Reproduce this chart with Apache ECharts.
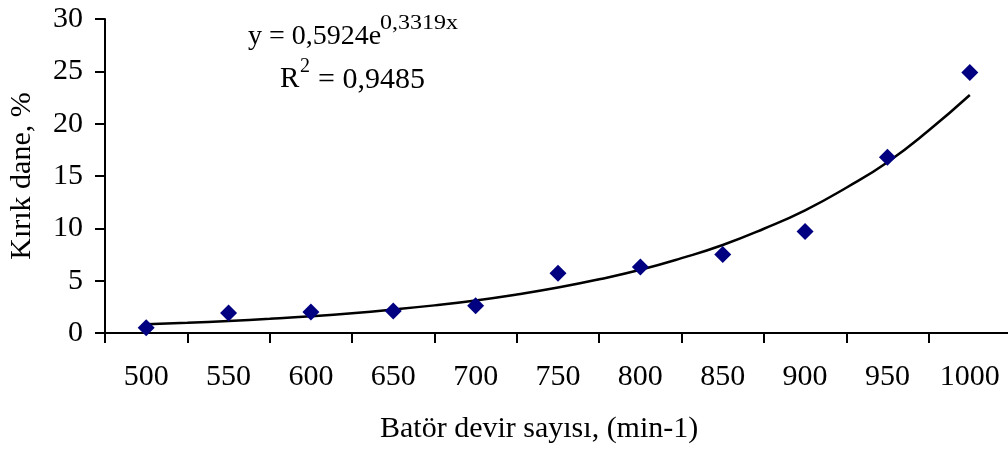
<!DOCTYPE html>
<html>
<head>
<meta charset="utf-8">
<script src="https://cdn.jsdelivr.net/npm/echarts@6/dist/echarts.min.js"></script>
<style>
  html, body { margin: 0; padding: 0; background: #fff; }
  #chart { width: 1008px; height: 454px; }
</style>
</head>
<body>
<div id="chart"></div>
<script>
// x categories (devir sayisi)
const categories = ['500', '550', '600', '650', '700', '750', '800', '850', '900', '950', '1000'];
// measured points (Kirik dane, %)
const kirikDane = [0.5, 1.9, 2.0, 2.1, 2.6, 5.7, 6.3, 7.5, 9.7, 16.8, 24.9];
// exponential trend line at each category and half way between
const trendPos = [1, 1.5, 2, 2.5, 3, 3.5, 4, 4.5, 5, 5.5, 6, 6.5, 7, 7.5, 8, 8.5, 9, 9.5, 10, 10.5, 11];
const trendValues = [0.83, 0.97, 1.15, 1.36, 1.60, 1.89, 2.24, 2.64, 3.11, 3.68, 4.34, 5.13, 6.04, 7.15, 8.41, 9.96, 11.72, 13.88, 16.32, 19.35, 22.74];
const yTicks = { min: 0, max: 30, interval: 5 };

const font = 'Liberation Serif';
const chart = echarts.init(document.getElementById('chart'));

chart.setOption({
  animation: false,
  backgroundColor: '#fff',
  grid: { left: 105, top: 19, width: 906, height: 314, outerBoundsMode: 'none', containLabel: false },
  xAxis: [
    {
      type: 'category',
      data: categories,
      boundaryGap: true,
      axisLine: { lineStyle: { color: '#000', width: 2 } },
      axisTick: { show: true, inside: false, length: 10, lineStyle: { color: '#000', width: 2 } },
      axisLabel: { fontFamily: font, fontSize: 30, color: '#000', margin: 29 },
      splitLine: { show: false }
    },
    {
      // hidden helper axis: category index positions for the trend curve
      type: 'value',
      min: 0.5,
      max: 11.5,
      show: false
    }
  ],
  yAxis: {
    type: 'value',
    min: yTicks.min,
    max: yTicks.max,
    interval: yTicks.interval,
    name: 'Kırık dane, %',
    nameLocation: 'middle',
    nameGap: 68,
    nameRotate: 90,
    nameTextStyle: { fontFamily: font, fontSize: 30, color: '#000' },
    axisLine: { show: true, lineStyle: { color: '#000', width: 2 } },
    axisTick: { show: true, inside: false, length: 10, lineStyle: { color: '#000', width: 2 } },
    axisLabel: { fontFamily: font, fontSize: 30, color: '#000', margin: 22 },
    splitLine: { show: false }
  },
  series: [
    {
      name: 'trend',
      type: 'line',
      xAxisIndex: 1,
      data: trendPos.map((p, i) => [p, trendValues[i]]),
      smooth: true,
      showSymbol: false,
      symbol: 'none',
      lineStyle: { color: '#000', width: 2.5 },
      z: 2
    },
    {
      name: 'Kırık dane',
      type: 'scatter',
      data: kirikDane,
      symbol: 'diamond',
      symbolSize: 17,
      itemStyle: { color: '#000080', opacity: 1 },
      z: 3
    }
  ],
  graphic: [
    {
      type: 'text', left: 248, top: 23,
      style: { text: 'y = 0,5924e', fontFamily: font, fontSize: 28, fill: '#000' }
    },
    {
      type: 'text', left: 380, top: 14, scaleX: 1.2,
      style: { text: '0,3319x', fontFamily: font, fontSize: 20, fill: '#000' }
    },
    {
      type: 'text', left: 280, top: 65,
      style: { text: 'R', fontFamily: font, fontSize: 29, fill: '#000' }
    },
    {
      type: 'text', left: 300, top: 57,
      style: { text: '2', fontFamily: font, fontSize: 20, fill: '#000' }
    },
    {
      type: 'text', left: 318, top: 65,
      style: { text: '= 0,9485', fontFamily: font, fontSize: 30, fill: '#000' }
    },
    {
      // x axis title, centred as in the original plot
      type: 'text', left: 380, top: 414,
      style: { text: 'Batör devir sayısı, (min-1)', fontFamily: font, fontSize: 30, fill: '#000' }
    }
  ]
});
</script>
</body>
</html>
